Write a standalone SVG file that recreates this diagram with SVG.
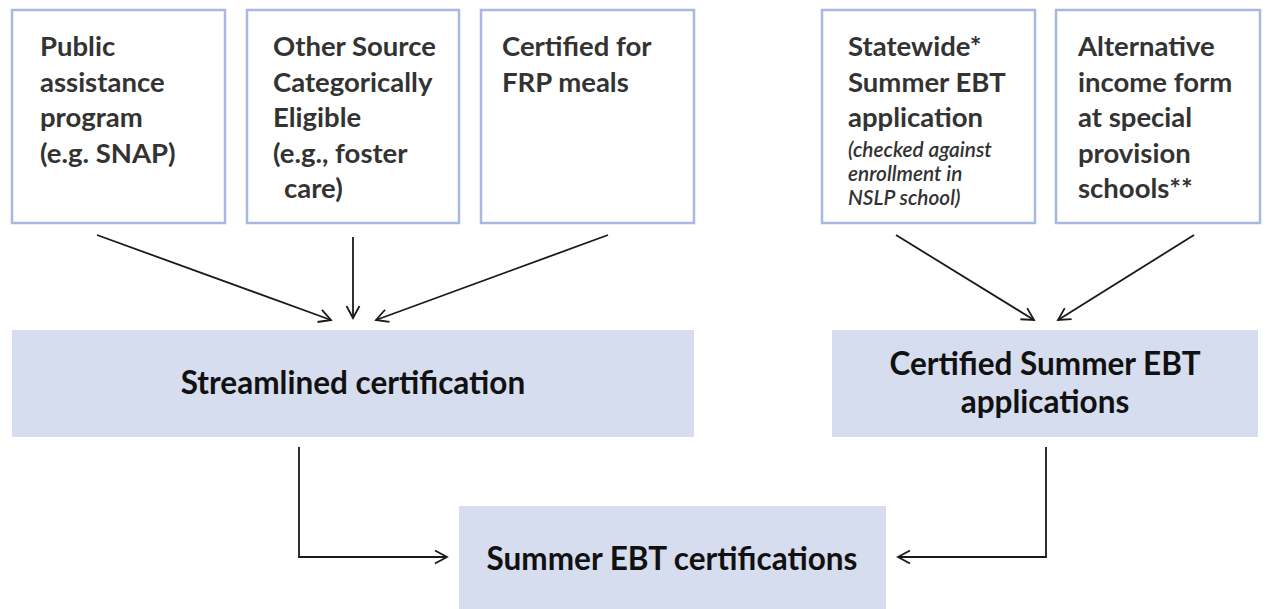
<svg xmlns="http://www.w3.org/2000/svg" width="1270" height="609" viewBox="0 0 1270 609">
<defs>
<style>
.src{fill:#ffffff;stroke:#a9b8de;stroke-width:2.5}
.tgt{fill:#d6ddee;stroke:none}
.t{font-family:Lato,"Source Sans Pro","Liberation Sans",sans-serif;font-weight:700;font-size:27.5px;fill:#333333}
.it{font-family:Lato,"Liberation Sans",sans-serif;font-style:italic;font-weight:600;font-size:20.8px;fill:#333333}
.h{font-family:Lato,"Liberation Sans",sans-serif;font-weight:700;font-size:31.5px;fill:#111111;text-anchor:middle}
.c{fill:none;stroke:#1a1a1a;stroke-width:1.8}
</style>
<marker id="ah" viewBox="0 0 16 16" refX="14" refY="8" markerWidth="16" markerHeight="16" markerUnits="userSpaceOnUse" orient="auto">
<path d="M2,1.5 L14,8 L2,14.5" fill="none" stroke="#1a1a1a" stroke-width="1.8"/>
</marker>
</defs>
<rect width="1270" height="609" fill="#ffffff"/>

<g id="n-public">
<rect class="src" x="12" y="10" width="213" height="213"/>
<text class="t"><tspan x="40" y="56">Public</tspan><tspan x="40" y="92">assistance</tspan><tspan x="40" y="127">program</tspan><tspan x="40" y="163">(e.g. SNAP)</tspan></text>
</g>
<g id="n-other">
<rect class="src" x="247" y="10" width="212" height="213"/>
<text class="t"><tspan x="273" y="56">Other Source</tspan><tspan x="273" y="92">Categorically</tspan><tspan x="273" y="127">Eligible</tspan><tspan x="273" y="163">(e.g., foster</tspan><tspan x="284" y="198">care)</tspan></text>
</g>
<g id="n-frp">
<rect class="src" x="481" y="10" width="213" height="213"/>
<text class="t"><tspan x="502" y="56">Certified for</tspan><tspan x="502" y="92">FRP meals</tspan></text>
</g>
<g id="n-statewide">
<rect class="src" x="822" y="10" width="213" height="213"/>
<text class="t"><tspan x="848" y="56">Statewide*</tspan><tspan x="848" y="92">Summer EBT</tspan><tspan x="848" y="127">application</tspan></text>
<text class="it"><tspan x="848" y="157">(checked against</tspan><tspan x="848" y="181">enrollment in</tspan><tspan x="848" y="205">NSLP school)</tspan></text>
</g>
<g id="n-alt">
<rect class="src" x="1056" y="10" width="204" height="213"/>
<text class="t"><tspan x="1078" y="56">Alternative</tspan><tspan x="1078" y="92">income form</tspan><tspan x="1078" y="127">at special</tspan><tspan x="1078" y="163">provision</tspan><tspan x="1078" y="198">schools**</tspan></text>
</g>
<g id="n-streamlined">
<rect class="tgt" x="12" y="330" width="682" height="107"/>
<text class="h" x="353" y="394">Streamlined certification</text>
</g>
<g id="n-certified">
<rect class="tgt" x="832" y="330" width="426" height="107"/>
<text class="h"><tspan x="1045" y="375">Certified Summer EBT</tspan><tspan x="1045" y="413">applications</tspan></text>
</g>
<g id="n-summer">
<rect class="tgt" x="459" y="506" width="427" height="103"/>
<text class="h" x="672" y="570">Summer EBT certifications</text>
</g>

<g id="connectors">
<line class="c" x1="97" y1="235" x2="331" y2="320" marker-end="url(#ah)"/>
<line class="c" x1="353" y1="237" x2="353" y2="318" marker-end="url(#ah)"/>
<line class="c" x1="608" y1="235" x2="376" y2="320" marker-end="url(#ah)"/>
<line class="c" x1="896" y1="235" x2="1034" y2="320" marker-end="url(#ah)"/>
<line class="c" x1="1194" y1="235" x2="1058" y2="320" marker-end="url(#ah)"/>
<polyline class="c" points="299,447 299,557 447,557" marker-end="url(#ah)"/>
<polyline class="c" points="1046,447 1046,557 898,557" marker-end="url(#ah)"/>
</g>
</svg>
